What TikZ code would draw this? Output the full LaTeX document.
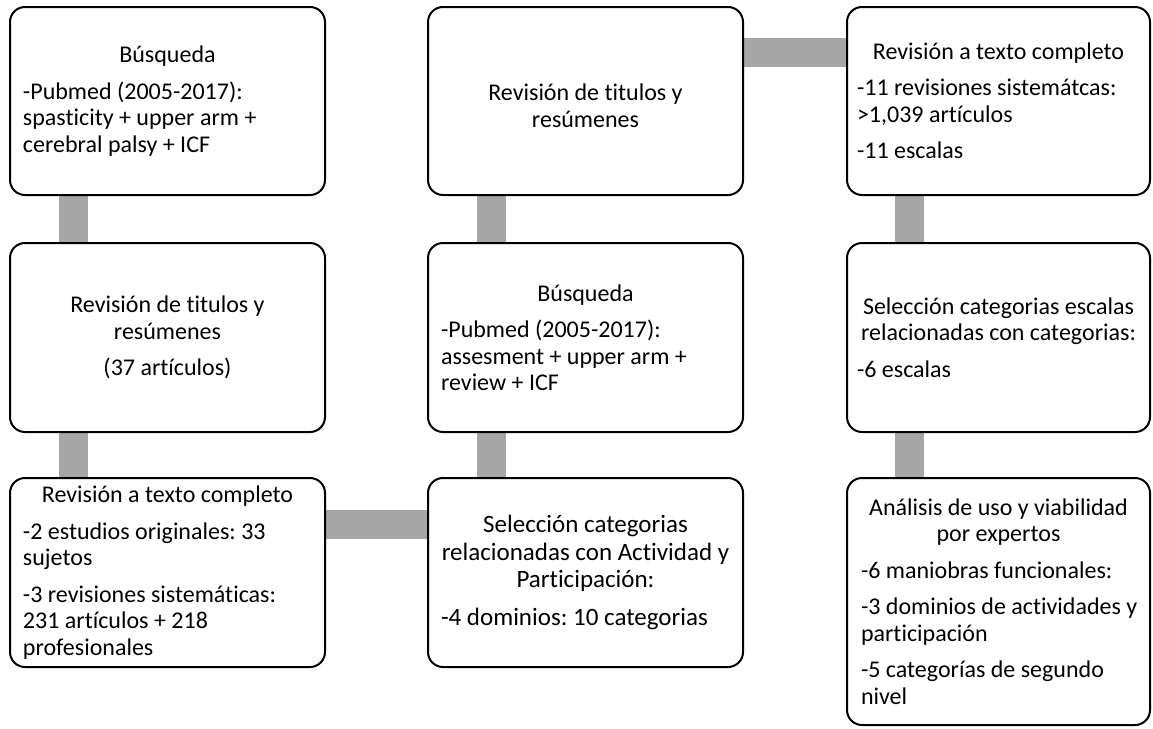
\documentclass[tikz,border=0pt]{standalone}
\usepackage{fontspec}
\setmainfont{Carlito}[Ligatures=NoCommon]
\usetikzlibrary{backgrounds}
\definecolor{bargray}{RGB}{166,166,166}
\frenchspacing
% box body: a fixed-height parbox, contents centred vertically
\newcommand\boxbody[3]{\parbox[c][#1][c]{#2}{#3}}
% centred heading lines and left-aligned item paragraphs inside a box
\newcommand\boxhead[1]{{\centering #1\par}}
\newcommand\boxitem[1]{\vspace{10pt}{\raggedright #1\par}}
\begin{document}
\begin{tikzpicture}[x=1pt,y=-1pt,
  stepbox/.style={draw, line width=2pt, rounded corners=15pt, fill=white,
    inner xsep=13pt, inner ysep=0pt, font=\fontsize{24}{26.5}\selectfont},
  narrowbox/.style={stepbox, inner xsep=10pt},
  bar/.style={draw=bargray, line width=29pt}]
\useasboundingbox (0,0) rectangle (1153,728);

% first column
\node[stepbox] (a1) at (167.5,101) {\boxbody{188pt}{289pt}{%
  \boxhead{Búsqueda}%
  \boxitem{-Pubmed (2005-2017):\\ spasticity + upper arm +\\ cerebral palsy + ICF}}};
\node[stepbox] (a2) at (167.5,337.5) {\boxbody{189pt}{289pt}{%
  \boxhead{Revisión de titulos y\\ resúmenes}%
  \vspace{10pt}\boxhead{(37 artículos)}}};
\node[stepbox] (a3) at (167.5,572.5) {\boxbody{189pt}{289pt}{%
  \boxhead{Revisión a texto completo}%
  \boxitem{-2 estudios originales: 33\\ sujetos}%
  \boxitem{-3 revisiones sistemáticas:\\ 231 artículos + 218\\ profesionales}}};

% second column
\node[stepbox] (b1) at (585.5,101) {\boxbody{188pt}{289pt}{%
  \vspace{10pt}\boxhead{Revisión de titulos y\\ resúmenes}}};
\node[stepbox] (b2) at (585.5,337.5) {\boxbody{189pt}{289pt}{%
  \boxhead{Búsqueda}%
  \boxitem{-Pubmed (2005-2017):\\ assesment + upper arm +\\ review + ICF}}};
\node[stepbox, font=\fontsize{25}{27.5}\selectfont] (b3) at (585.5,572.5) {\boxbody{189pt}{289pt}{%
  \boxhead{Selección categorias\\ relacionadas con Actividad y\\ Participación:}%
  \boxitem{-4 dominios: 10 categorias}}};

% third column
\node[narrowbox] (c1) at (998.5,101) {\boxbody{188pt}{283pt}{%
  \boxhead{Revisión a texto completo}%
  \boxitem{-11 revisiones sistemátcas:\\ >1,039 artículos}%
  \boxitem{-11 escalas}}};
\node[narrowbox] (c2) at (998.5,337.5) {\boxbody{189pt}{283pt}{%
  \boxhead{Selección categorias escalas\\ relacionadas con categorias:}%
  \boxitem{-6 escalas}}};
\node[narrowbox] (c3) at (998.5,601.5) {\boxbody{247pt}{283pt}{%
  \boxhead{Análisis de uso y viabilidad\\ por expertos}%
  \boxitem{\leftskip=4pt -6 maniobras funcionales:}%
  \boxitem{\leftskip=4pt -3 dominios de actividades y\\ participación}%
  \boxitem{\leftskip=4pt -5 categorías de segundo\\ nivel}}};

% grey connecting bars behind the boxes
\begin{scope}[on background layer]
  \draw[bar] ([xshift=64.5pt]a1.south west) -- ([xshift=64.5pt]a2.north west);
  \draw[bar] ([xshift=64.5pt]a2.south west) -- ([xshift=64.5pt]a3.north west);
  \draw[bar] ([yshift=-47pt]a3.north east) -- ([yshift=-47pt]b3.north west);
  \draw[bar] ([xshift=64.5pt]b3.north west) -- ([xshift=64.5pt]b2.south west);
  \draw[bar] ([xshift=64.5pt]b2.north west) -- ([xshift=64.5pt]b1.south west);
  \draw[bar] ([yshift=-46pt]b1.north east) -- ([yshift=-46pt]c1.north west);
  \draw[bar] ([xshift=63.5pt]c1.south west) -- ([xshift=63.5pt]c2.north west);
  \draw[bar] ([xshift=63.5pt]c2.south west) -- ([xshift=63.5pt]c3.north west);
\end{scope}
\end{tikzpicture}
\end{document}
